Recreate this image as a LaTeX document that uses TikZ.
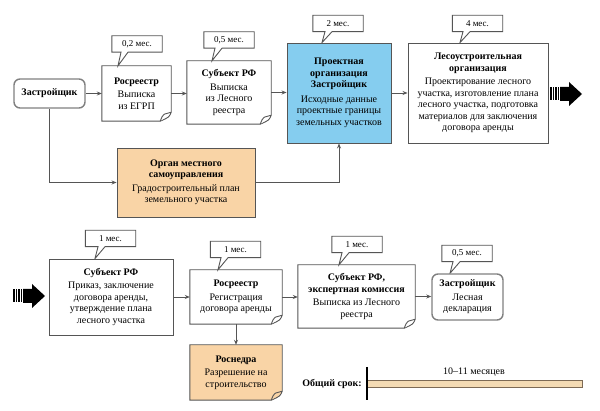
\documentclass[tikz,border=0pt]{standalone}
\usepackage{fontspec}
\setmainfont{Liberation Serif}
\usetikzlibrary{arrows.meta,calc}
\pgfdeclarelayer{background}
\pgfdeclarelayer{canvas}
\pgfsetlayers{canvas,background,main}
\definecolor{lineg}{HTML}{555555}
\definecolor{blueF}{HTML}{85CDEF}
\definecolor{orangeF}{HTML}{F9D4A6}
\definecolor{barF}{HTML}{F4DBB4}
\definecolor{barD}{HTML}{7D6A55}
\tikzset{
  txt/.style={align=center, font=\fontsize{10}{11.5}\selectfont, inner sep=2pt},
  plainbox/.style={txt, draw=lineg, line width=0.9pt, fill=white},
  bluebox/.style={plainbox, fill=blueF},
  orangebox/.style={plainbox, fill=orangeF},
  roundbox/.style={txt, draw=gray, line width=1.4pt, rounded corners=6pt, fill=white},
  docnode/.style={txt},
  docline/.style={draw=lineg, line width=0.9pt},
  calloutnode/.style={font=\fontsize{9}{10}\selectfont, inner sep=0pt, minimum width=50pt, minimum height=16pt},
  conn/.style={draw=lineg, line width=0.8pt, -{Stealth[length=5pt,width=4pt]}},
  bigarr/.pic={
    \fill (0,-6.5) rectangle (1.5,6.5);
    \fill (2.5,-6.5) rectangle (4,6.5);
    \fill (5,-6.5) rectangle (6.5,6.5);
    \fill (7.5,-6.5) rectangle (9,6.5);
    \fill (10,-7) -- (19,-7) -- (19,-12) -- (32,0) -- (19,12) -- (19,7) -- (10,7) -- cycle;
  }
}
\newcommand\docpath[2]{%
  \begin{pgfonlayer}{background}
  \draw[docline, fill=#2] (#1.north west) -- (#1.north east) -- ([yshift=9pt]#1.south east)
    .. controls ([xshift=-2pt,yshift=4pt]#1.south east) .. ([xshift=-11pt]#1.south east)
    -- (#1.south west) -- cycle;
  \draw[docline, fill=#2] ([xshift=-11pt]#1.south east)
    .. controls ([xshift=-9pt,yshift=5pt]#1.south east) .. ([xshift=-7pt,yshift=7pt]#1.south east)
    -- ([yshift=9pt]#1.south east);
  \end{pgfonlayer}}
% callout: name, cx, cy, text, tipx, target box
\newcommand\callout[6]{%
  \node[calloutnode] (#1) at (#2,#3) {#4};
  \begin{pgfonlayer}{background}
  \draw[docline, fill=white] (#1.north west) -- (#1.north east) -- (#1.south east)
    -- (#5+10,0 |- #1.south) -- (#5,0 |- #6.north) -- (#5+3,0 |- #1.south)
    -- (#1.south west) -- cycle;
  \end{pgfonlayer}}
\begin{document}
\begin{tikzpicture}[x=1pt,y=-1pt]
\useasboundingbox (0,0) rectangle (600,411);
\begin{pgfonlayer}{canvas}
\fill[white] (0,0) rectangle (600,411);
\end{pgfonlayer}

% top row
\node[roundbox, minimum width=71pt, minimum height=29pt] (zastrA) at (49.5,93.5) {\textbf{Застройщик}};
\node[docnode, minimum width=69pt, minimum height=55pt] (rosrA) at (136.5,93.5)
  {\textbf{Росреестр}\\[2pt]Выписка\\из ЕГРП};
\docpath{rosrA}{white}
\node[docnode, minimum width=84pt, minimum height=63pt] (subjA) at (229,92.5)
  {\textbf{Субъект РФ}\\[2pt]Выписка\\из Лесного\\реестра};
\docpath{subjA}{white}
\node[bluebox, minimum width=104pt, minimum height=100pt] (proekt) at (339,93)
  {\textbf{Проектная}\\\textbf{организация}\\\textbf{Застройщик}\\[3pt]Исходные данные\\проектные границы\\земельных участков};
\node[plainbox, minimum width=140pt, minimum height=100pt] (lesou) at (478,93)
  {\textbf{Лесоустроительная}\\\textbf{организация}\\[2pt]Проектирование лесного\\участка, изготовление плана\\лесного участка, подготовка\\материалов для заключения\\договора аренды};
\node[orangebox, minimum width=138pt, minimum height=69pt] (organ) at (186,182.5)
  {\textbf{Орган местного}\\\textbf{самоуправления}\\[2pt]Градостроительный план\\земельного участка};

\callout{cA}{137}{44}{0,2 мес.}{118}{rosrA}
\callout{cB}{229}{40}{0,5 мес.}{212}{subjA}
\callout{cC}{338}{23.5}{2 мес.}{322}{proekt}
\callout{cD}{477.5}{23.5}{4 мес.}{460}{lesou}

\pic at (550,94) {bigarr};

\draw[conn] (zastrA.east) -- (zastrA.east -| rosrA.west);
\draw[conn] (rosrA.east) -- (rosrA.east -| subjA.west);
\draw[conn] (subjA.east) -- (subjA.east -| proekt.west);
\draw[conn] (proekt.east) -- (proekt.east -| lesou.west);
\draw[conn] (zastrA.south) |- (organ.west);
\draw[conn] (organ.east) -| (proekt.south);

% bottom row
\pic at (13,296) {bigarr};
\node[plainbox, minimum width=124pt, minimum height=76pt] (subjB) at (111,297)
  {\textbf{Субъект РФ}\\[2pt]Приказ, заключение\\договора аренды,\\утверждение плана\\лесного участка};
\node[docnode, minimum width=92pt, minimum height=54pt] (rosrB) at (236,297)
  {\textbf{Росреестр}\\[2pt]Регистрация\\договора аренды};
\docpath{rosrB}{white}
\node[docnode, minimum width=92pt, minimum height=55pt] (rosnedra) at (236,372.5)
  {\textbf{Роснедра}\\[2pt]Разрешение на\\строительство};
\docpath{rosnedra}{orangeF}
\node[docnode, minimum width=117pt, minimum height=63pt] (subjC) at (356.5,296.5)
  {\textbf{Субъект РФ,}\\\textbf{экспертная комиссия}\\[2pt]Выписка из Лесного\\реестра};
\docpath{subjC}{white}
\node[roundbox, minimum width=71pt, minimum height=46pt] (zastrB) at (467.5,297)
  {\textbf{Застройщик}\\[2pt]Лесная\\декларация};

\callout{cE}{110.5}{238.5}{1 мес.}{95}{subjB}
\callout{cF}{235.5}{249.5}{1 мес.}{218}{rosrB}
\callout{cG}{357}{244.5}{1 мес.}{339}{subjC}
\callout{cH}{467}{253.5}{0,5 мес.}{450}{zastrB}

\draw[conn] (subjB.east) -- (subjB.east -| rosrB.west);
\draw[conn] (rosrB.east) -- (rosrB.east -| subjC.west);
\draw[conn] (subjC.east) -- (subjC.east -| zastrB.west);
\draw[conn] (rosrB.south) -- (rosnedra.north);

% total term
\node[font=\bfseries\fontsize{10}{12}\selectfont, anchor=east, inner sep=0pt] (obsh) at (362,383.5) {Общий срок:};
\node[draw=barD, fill=barF, line width=0.8pt, minimum width=215pt, minimum height=7pt, inner sep=0pt, anchor=west] (bar) at (367,383.5) {};
\node[font=\fontsize{10}{12}\selectfont, inner sep=0pt] (term) at (474,372) {10–11 месяцев};
\coordinate (vtop) at (367,367);
\coordinate (vbot) at (367,400);
\draw[line width=2pt] (vtop) -- (vbot);
\end{tikzpicture}
\end{document}
